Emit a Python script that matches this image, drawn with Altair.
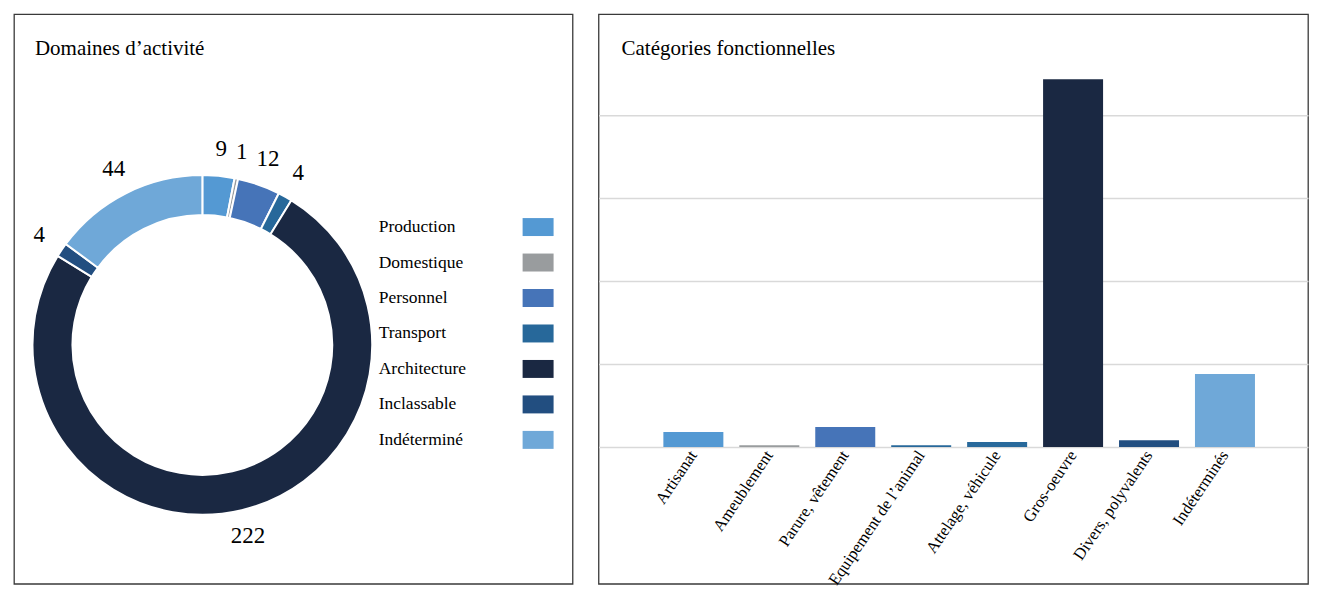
import altair as alt
import pandas as pd

# ---- data ----
domaines = ["Production", "Domestique", "Personnel", "Transport",
            "Architecture", "Inclassable", "Indéterminé"]
domaine_values = [9, 1, 12, 4, 222, 4, 44]
domaine_colors = ["#5499d3", "#999c9e", "#4674b8", "#27689a",
                  "#1a2842", "#224e80", "#6fa8d8"]

categories = ["Artisanat", "Ameublement", "Parure, vêtement",
              "Equipement de l’animal", "Attelage, véhicule", "Gros-oeuvre",
              "Divers, polyvalents", "Indéterminés"]
category_values = [9, 1, 12, 1, 3, 222, 4, 44]
category_colors = ["#5499d3", "#999c9e", "#4674b8", "#27689a",
                   "#28699b", "#1a2842", "#224e80", "#6fa8d8"]

FONT = "Liberation Serif"
H = 570
W_LEFT = 559
W_RIGHT = 710

dom_df = pd.DataFrame({"domaine": domaines, "valeur": domaine_values,
                       "ordre": list(range(len(domaines)))})
cat_df = pd.DataFrame({"categorie": categories, "valeur": category_values})

color_dom = alt.Color("domaine:N",
                      scale=alt.Scale(domain=domaines, range=domaine_colors),
                      legend=None)

base = alt.Chart(dom_df)
cx, cy = alt.value(188.5), alt.value(331)

arcs = base.mark_arc(innerRadius=130, outerRadius=170, stroke="white",
                     strokeWidth=2).encode(
    theta=alt.Theta("valeur:Q", stack=True),
    order=alt.Order("ordre:Q"),
    color=color_dom,
    x=cx, y=cy,
)
arc_labels = base.mark_text(radius=197, font=FONT, fontSize=23,
                            color="black").encode(
    theta=alt.Theta("valeur:Q", stack=True),
    order=alt.Order("ordre:Q"),
    text="valeur:Q",
    x=cx, y=cy,
)
ypos = alt.Y("domaine:N",
             scale=alt.Scale(domain=domaines, range=[213, 426], padding=0),
             axis=None)
leg_text = base.mark_text(align="left", baseline="middle", font=FONT,
                          fontSize=17.5, color="black").encode(
    x=alt.value(365), y=ypos, text="domaine:N")
leg_swatch = base.mark_point(shape="M-1,-0.58H1V0.58H-1Z", size=961,
                             filled=True, opacity=1, strokeWidth=0).encode(
    x=alt.value(524.5), y=ypos, color=color_dom)

left = alt.layer(arcs, arc_labels, leg_text, leg_swatch).properties(
    width=W_LEFT, height=H,
    title=alt.TitleParams("Domaines d’activité", anchor="start", offset=-45,
                          dx=21, font=FONT, fontSize=21, fontWeight="normal",
                          color="black"),
)

bars = alt.Chart(cat_df).mark_bar().encode(
    x=alt.X("categorie:N", sort=categories,
            scale=alt.Scale(paddingInner=0.21, paddingOuter=0.776, align=0.55),
            axis=alt.Axis(title=None, labelAngle=-56, labelFont=FONT,
                          labelFontSize=16.5, labelColor="black", domain=False,
                          ticks=False, labelPadding=5, labelLimit=0,
                          labelOverlap=False, offset=433 - H)),
    y=alt.Y("valeur:Q", scale=alt.Scale(domain=[0, 261.2], range=[433, 0]),
            axis=alt.Axis(title=None, values=[0, 50, 100, 150, 200],
                          labels=False, ticks=False, domain=False, grid=True,
                          gridColor="#d9d9d9", gridWidth=1.5)),
    color=alt.Color("categorie:N",
                    scale=alt.Scale(domain=categories, range=category_colors),
                    legend=None),
).properties(
    width=W_RIGHT, height=H,
    title=alt.TitleParams("Catégories fonctionnelles", anchor="start",
                          offset=-45, dx=23, font=FONT, fontSize=21,
                          fontWeight="normal", color="black"),
)

chart = alt.hconcat(left, bars, spacing=24).resolve_scale(
    color="independent"
).properties(
    padding={"left": 5, "top": 5, "right": 0, "bottom": 0},
).configure_view(stroke="#3a3a3a", strokeWidth=1.3)

chart.save("out.html", embed_options={"renderer": "svg", "actions": False})
